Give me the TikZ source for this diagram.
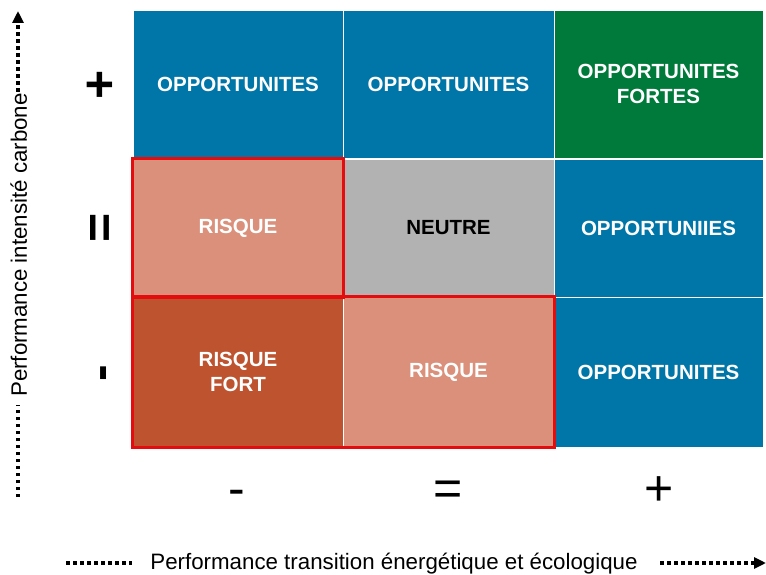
\documentclass[tikz,border=0pt]{standalone}
\usepackage{fontspec}
\setmainfont{Liberation Sans}
\usetikzlibrary{arrows.meta}
\definecolor{bleu}{RGB}{0,118,168}
\definecolor{vert}{RGB}{0,122,58}
\definecolor{saumon}{RGB}{218,144,122}
\definecolor{brique}{RGB}{190,83,48}
\definecolor{gris}{RGB}{178,178,178}
\definecolor{rouge}{RGB}{228,12,12}
\tikzstyle{cell}=[draw=white, line width=0.8pt, inner sep=0pt, align=center, font=\fontsize{20.5}{25}\selectfont\bfseries]
\tikzstyle{cadre}=[draw=rouge, line width=3pt]
\tikzstyle{signe}=[inner sep=0pt, anchor=base, font=\fontsize{50}{60}\selectfont]
\tikzstyle{axe}=[line width=3.5pt, dash pattern=on 3.5pt off 3.5pt]
\tikzstyle{titre}=[inner sep=0pt, anchor=base, font=\fontsize{22.3}{26}\selectfont]

\begin{document}
\begin{tikzpicture}[x=1pt, y=-1pt]
\useasboundingbox (0,0) rectangle (766,575);
  % grid of cells
  \foreach \place/\name/\w/\h/\col/\tc/\txt in {{(238,84)/c11/210/148/bleu/white/OPPORTUNITES},
                            {(448.5,84)/c12/211/148/bleu/white/OPPORTUNITES},
                            {(658.5,84)/c13/209/148/vert/white/OPPORTUNITES\\FORTES},
                            {(238,228)/c21/210/138/saumon/white/RISQUE},
                            {(448.5,228)/c22/211/138/gris/black/NEUTRE},
                            {(658.5,228)/c23/209/138/bleu/white/OPPORTUNIIES},
                            {(238,372)/c31/210/150/brique/white/RISQUE\\FORT},
                            {(448.5,372)/c32/211/150/saumon/white/RISQUE},
                            {(658.5,372)/c33/209/150/bleu/white/OPPORTUNITES}}
    \node[cell, fill=\col, text=\tc, minimum width=\w pt, minimum height=\h pt] (\name) at \place {\txt};
  \draw[cadre] (c21.north west) rectangle (c21.south east);
  \draw[cadre] (c31.north west) rectangle (c32.south east);
  % signs
  \foreach \place/\name/\txt in {{(116,85)/l1/+}, {(116,228)/l2/=}, {(116,373)/l3/-}}
    \node[signe, rotate=90, font=\fontsize{50}{60}\selectfont\bfseries] (\name) at \place {\txt};
  \foreach \place/\name/\txt in {{(237,505)/b1/-}, {(448,505)/b2/=}, {(659,505)/b3/+}}
    \node[signe] (\name) at \place {\txt};
  % axes
  \node[titre] (titrex) at (394,569) {Performance transition énergétique et écologique};
  \node[titre, rotate=90] (titrey) at (27,245) {Performance intensité carbone};
  \coordinate (x0) at (66,563);
  \coordinate (x1) at (132,563);
  \coordinate (x2) at (660,563);
  \coordinate (x3) at (766,563);
  \coordinate (y0) at (18,497);
  \coordinate (y1) at (18,405);
  \coordinate (y2) at (18,92);
  \coordinate (y3) at (18,11);
  \draw[axe] (x0) -- (x1);
  \draw[axe, -{Triangle[length=12pt, width=11pt]}] (x2) -- (x3);
  \draw[axe] (y0) -- (y1);
  \draw[axe, -{Triangle[length=12pt, width=11pt]}] (y2) -- (y3);
\end{tikzpicture}
\end{document}
